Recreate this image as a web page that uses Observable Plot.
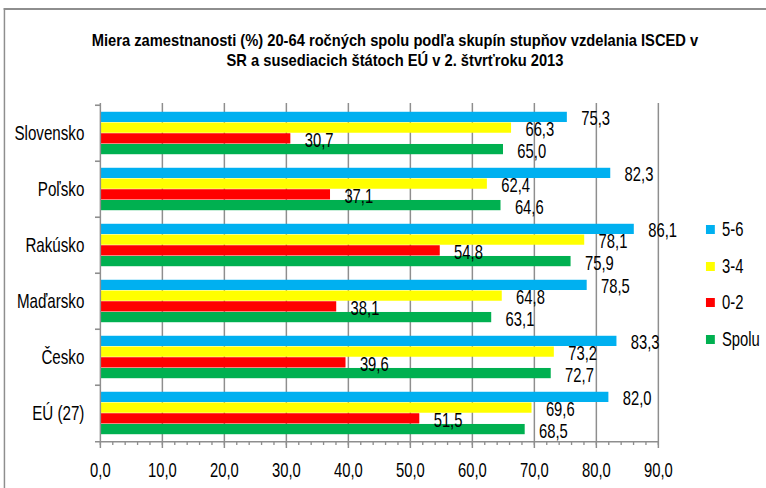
<!DOCTYPE html>
<html>
<head>
<meta charset="utf-8">
<script src="https://cdn.jsdelivr.net/npm/d3@7"></script>
<script src="https://cdn.jsdelivr.net/npm/@observablehq/plot@0.6"></script>
<style>
  html, body { margin: 0; padding: 0; background: #fff; overflow: hidden; }
  #page { position: relative; width: 766px; height: 488px; overflow: hidden; }
  #wrap { position: absolute; left: 0; top: 0; height: 488px; overflow: hidden; transform-origin: 0 0; font-family: 'Liberation Sans', Arial, sans-serif; }
  #border { position: absolute; top: 8px; height: 520px; border-top: 2px solid #8e8e8e; border-left-style: solid; border-left-color: #8e8e8e; }
  #title { position: absolute; top: 31px; left: -105px; width: 1000px; text-align: center; font-family: 'Liberation Sans', Arial, sans-serif; font-weight: bold; font-size: 17px; line-height: 20px; color: #000; white-space: nowrap; transform-origin: 500px 0; }
  #chart { position: absolute; left: 0; top: 0; }
  #legend { position: absolute; top: 222px; font-size: 20px; color: #000; }
  .item { position: relative; height: 36.5px; }
  .sw { position: absolute; left: 0; top: 3px; height: 9px; }
  .lab { position: absolute; top: -4px; line-height: 22px; white-space: nowrap; }
</style>
</head>
<body>
<div id="page">
  <div id="wrap">
    <div id="border"></div>
    <div id="chart"></div>
    <div id="legend"></div>
  </div>
  <div id="title">Miera zamestnanosti (%) 20-64 ročných spolu podľa skupín stupňov vzdelania ISCED v<br>SR a susediacich štátoch EÚ v 2. štvrťroku 2013</div>
</div>
<script>
// ---- data ----
const countries = ["Slovensko", "Poľsko", "Rakúsko", "Maďarsko", "Česko", "EÚ (27)"];
const seriesNames = ["5-6", "3-4", "0-2", "Spolu"];
const seriesColors = ["#00B0F0", "#FFFF00", "#FF0000", "#00B050"];
const values56 = [75.3, 82.3, 86.1, 78.5, 83.3, 82.0];
const values34 = [66.3, 62.4, 78.1, 64.8, 73.2, 69.6];
const values02 = [30.7, 37.1, 54.8, 38.1, 39.6, 51.5];
const valuesSpolu = [65.0, 64.6, 75.9, 63.1, 72.7, 68.5];
const xTicks = [0, 10, 20, 30, 40, 50, 60, 70, 80, 90];
const xMinorTicks = d3.range(0, 91, 2);

const seriesValues = [values56, values34, values02, valuesSpolu];

// ---- layout (condensed look: draw wide, then squeeze horizontally) ----
const S = 0.74;             // horizontal squeeze factor for the chart
const ST = 0.864;           // horizontal squeeze factor for the title
const W = 766, H = 488;
const DW = W / S;
const mt = 103, mb = 46, ml = 100 / S, mr = 108 / S;
const plotH = H - mt - mb;
const step = plotH / countries.length;
const pad = step * 0.12;
const bh = (step - 2 * pad) / seriesNames.length;
const FONT = "'Liberation Sans', Arial, sans-serif";
const FS = 20, FS_CAT = 20.5;
const fmt = v => d3.format(".1f")(v).replace(".", ",");
const GRID = "#8e8e8e";

const wrap = document.getElementById("wrap");
wrap.style.width = DW + "px";
wrap.style.transform = `scaleX(${S})`;
const border = document.getElementById("border");
border.style.left = (4 / S) + "px";
border.style.width = DW + "px";
border.style.borderLeftWidth = (2 / S) + "px";
document.getElementById("title").style.transform = `scaleX(${ST})`;

const barMarks = [];
const textMarks = [];
seriesNames.forEach((name, k) => {
  const rows = countries.map((c, i) => ({country: c, series: name, value: seriesValues[k][i]}));
  barMarks.push(Plot.barX(rows, {
    x: "value", y: "country", fill: seriesColors[k],
    insetTop: pad + k * bh,
    insetBottom: step - pad - (k + 1) * bh
  }));
  textMarks.push(Plot.text(rows, {
    x: "value", y: "country", text: d => fmt(d.value),
    textAnchor: "start", dx: 14 / S, dy: -step / 2 + pad + (k + 0.5) * bh + 1.5,
    fill: "#000", fontSize: FS
  }));
});

const chart = Plot.plot({
  width: DW, height: H,
  marginTop: mt, marginBottom: mb, marginLeft: ml, marginRight: mr,
  style: {fontFamily: FONT, fontSize: FS + "px", background: "transparent", color: "#000"},
  x: {domain: [0, 90]},
  y: {domain: countries, padding: 0},
  marks: [
    Plot.gridX(xTicks.slice(1), {stroke: GRID, strokeOpacity: 1, strokeWidth: 2}),
    ...barMarks,
    Plot.ruleX([0], {stroke: GRID, strokeWidth: 2}),
    Plot.ruleY(countries, {y: d => d, x1: 0, x2: 0, insetLeft: -5 / S, dy: -step / 2, stroke: GRID, strokeWidth: 1.6}),
    Plot.ruleY([countries[countries.length - 1]], {y: d => d, x1: 0, x2: 90, insetLeft: -5 / S, dy: step / 2, stroke: GRID, strokeWidth: 1.6}),
    Plot.axisX(xMinorTicks, {tickSize: 3, tickFormat: () => "", stroke: GRID, strokeWidth: 1.8, label: null}),
    Plot.axisX(xTicks, {tickSize: 6, tickPadding: 14, tickFormat: fmt, stroke: GRID, strokeWidth: 2, fill: "#000", fontSize: FS, label: null}),
    Plot.axisY({tickSize: 0, tickPadding: 16 / S, fill: "#000", fontSize: FS_CAT, label: null}),
    ...textMarks
  ]
});
document.getElementById("chart").appendChild(chart);

// ---- legend ----
const legend = document.getElementById("legend");
legend.style.left = (706 / S) + "px";
seriesNames.forEach((name, k) => {
  const item = document.createElement("div");
  item.className = "item";
  const sw = document.createElement("div");
  sw.className = "sw";
  sw.style.width = (9 / S) + "px";
  sw.style.background = seriesColors[k];
  const lab = document.createElement("div");
  lab.className = "lab";
  lab.style.left = (16 / S) + "px";
  lab.textContent = name;
  item.appendChild(sw);
  item.appendChild(lab);
  legend.appendChild(item);
});
</script>
</body>
</html>
